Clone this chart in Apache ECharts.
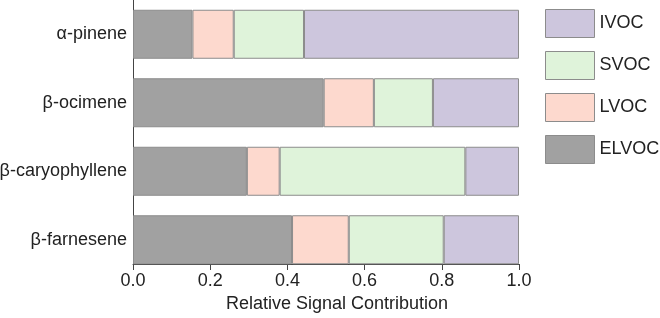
<!DOCTYPE html>
<html>
<head>
<meta charset="utf-8">
<script src="https://cdn.jsdelivr.net/npm/echarts@6/dist/echarts.min.js"></script>
<style>html,body{margin:0;padding:0;background:#fff}#c{width:660px;height:318px}</style>
</head>
<body>
<div id="c"></div>
<script>
// categories from bottom to top
const categories = ['β-farnesene', 'β-caryophyllene', 'β-ocimene', 'α-pinene'];
const ELVOC = [0.412, 0.295, 0.494, 0.154];
const LVOC  = [0.147, 0.085, 0.130, 0.107];
const SVOC  = [0.246, 0.481, 0.153, 0.182];
const IVOC  = [0.195, 0.139, 0.223, 0.557];
const xTicks = [0, 0.2, 0.4, 0.6, 0.8, 1.0];

const FONT = 'Liberation Sans, Arial, sans-serif';
const colors = {ELVOC: '#a1a1a1', LVOC: '#fdd9ce', SVOC: '#dff3da', IVOC: '#cdc6dd'};
const seriesDefs = [['ELVOC', ELVOC], ['LVOC', LVOC], ['SVOC', SVOC], ['IVOC', IVOC]];

const chart = echarts.init(document.getElementById('c'), null, {renderer: 'canvas'});
chart.setOption({
  animation: false,
  textStyle: {fontFamily: FONT},
  legend: {
    orient: 'vertical',
    left: 540, top: 4,
    itemWidth: 49, itemHeight: 28, itemGap: 13,
    data: ['IVOC', 'SVOC', 'LVOC', 'ELVOC'],
    itemStyle: {borderWidth: 1, borderColor: '#8c8c8c'},
    textStyle: {fontFamily: FONT, fontSize: 18, color: '#222'},
    icon: 'rect'
  },
  grid: [
    {left: 133, right: 141, top: 0, height: 274, containLabel: false, outerBoundsMode: 'none'},
    {left: 133, right: 141, top: 0, height: 264, containLabel: false, outerBoundsMode: 'none'}
  ],
  xAxis: [
    {type: 'value', gridIndex: 0, min: 0, max: 1, show: false},
    {type: 'value', gridIndex: 1, min: 0, max: 1, interval: 0.2,
      axisLine: {show: true, lineStyle: {color: '#444', width: 1}},
      axisTick: {show: true, inside: false, length: 6, lineStyle: {color: '#444'}},
      splitLine: {show: false},
      axisLabel: {fontFamily: FONT, fontSize: 18, color: '#222', margin: 8,
        formatter: v => { const i = xTicks.findIndex(t => Math.abs(t - v) < 1e-9); return i >= 0 ? xTicks[i].toFixed(1) : ''; }},
      name: 'Relative Signal Contribution', nameLocation: 'middle', nameGap: 27,
      nameTextStyle: {fontFamily: FONT, fontSize: 18, color: '#222', padding: [0, 0, 0, 22]}
    }
  ],
  yAxis: [
    {type: 'category', gridIndex: 0, data: categories,
      axisLine: {show: false}, axisTick: {show: false},
      axisLabel: {fontFamily: FONT, fontSize: 18, color: '#222', margin: 6}
    },
    {type: 'value', gridIndex: 1, min: 0, max: 1,
      axisLine: {show: true, lineStyle: {color: '#444', width: 1}},
      axisTick: {show: false}, axisLabel: {show: false}, splitLine: {show: false}
    }
  ],
  series: seriesDefs.map(([name, data]) => ({
    name, type: 'bar', stack: 'total', xAxisIndex: 0, yAxisIndex: 0,
    barWidth: 49, data,
    itemStyle: {color: colors[name], borderColor: '#8c8c8c', borderWidth: 1}
  }))
});
</script>
</body>
</html>
